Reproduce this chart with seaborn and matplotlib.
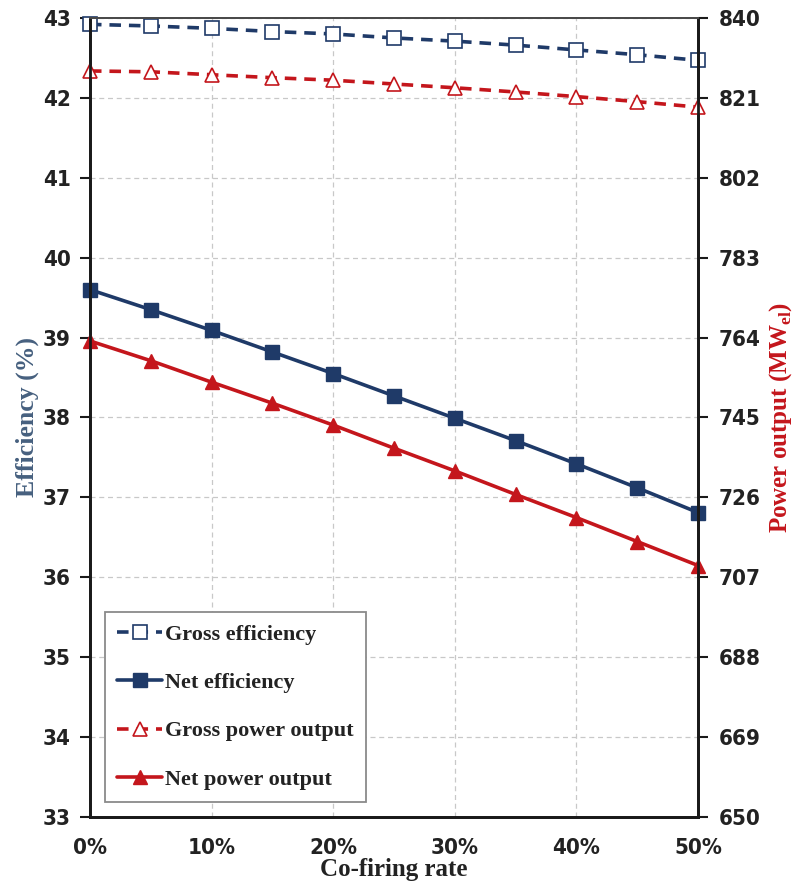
import matplotlib
matplotlib.use("Agg")
import matplotlib.pyplot as plt
from matplotlib import font_manager
import seaborn as sns
import pandas as pd

# Co-firing rate (%) and plant performance
cofiring = [0, 5, 10, 15, 20, 25, 30, 35, 40, 45, 50]
gross_eff = [42.92, 42.90, 42.87, 42.83, 42.80, 42.75, 42.71, 42.66, 42.60, 42.54, 42.47]
net_eff = [39.60, 39.35, 39.09, 38.82, 38.55, 38.27, 37.99, 37.71, 37.42, 37.12, 36.81]
gross_power = [827.4, 827.2, 826.5, 825.8, 825.2, 824.3, 823.4, 822.4, 821.3, 820.1, 818.8]
net_power = [763.2, 758.5, 753.4, 748.4, 743.2, 737.7, 732.3, 726.7, 721.2, 715.5, 709.8]

eff_ticks = list(range(33, 44))
power_ticks = [650, 669, 688, 707, 726, 745, 764, 783, 802, 821, 840]
x_ticks = [0, 10, 20, 30, 40, 50]

df = pd.DataFrame({"rate": cofiring, "gross_eff": gross_eff, "net_eff": net_eff,
                   "gross_power": gross_power, "net_power": net_power})

NAVY = "#1f3a68"
RED = "#c4161c"

sns.set_style("white")
narrow = [f for f in font_manager.fontManager.ttflist
          if f.name == "DejaVu Sans" and f.stretch == "condensed" and f.weight in (700, "bold")]
if any(f.name == "Liberation Sans Narrow" for f in font_manager.fontManager.ttflist):
    tick_family, tick_stretch = ["Liberation Sans Narrow"], "normal"
elif narrow:
    tick_family, tick_stretch = ["DejaVu Sans"], "condensed"
else:
    tick_family, tick_stretch = ["Liberation Sans"], "normal"
serif = ["Liberation Serif", "DejaVu Serif"]
plt.rcParams["font.family"] = serif
plt.rcParams["mathtext.fontset"] = "custom"
plt.rcParams["mathtext.bf"] = "Liberation Serif:bold"
plt.rcParams["mathtext.rm"] = "Liberation Serif"

fig = plt.figure(figsize=(7.96, 8.85), dpi=100)
ax = fig.add_axes([0.113, 0.0768, 0.764, 0.9029])
ax2 = ax.twinx()

dash = (0, (3.2, 2.2))
common = dict(linewidth=2.6, clip_on=False, legend=False)
sns.lineplot(data=df, x="rate", y="gross_eff", ax=ax, color=NAVY,
             linestyle=dash, marker="s", markersize=9.5, markerfacecolor="white",
             markeredgecolor=NAVY, markeredgewidth=1.2, label="Gross efficiency", **common)
sns.lineplot(data=df, x="rate", y="net_eff", ax=ax, color=NAVY,
             marker="s", markersize=9.5, markerfacecolor=NAVY,
             markeredgecolor=NAVY, markeredgewidth=1.0, label="Net efficiency", **common)
sns.lineplot(data=df, x="rate", y="gross_power", ax=ax2, color=RED,
             linestyle=dash, marker="^", markersize=10.5, markerfacecolor="white",
             markeredgecolor=RED, markeredgewidth=1.2, label="Gross power output", **common)
sns.lineplot(data=df, x="rate", y="net_power", ax=ax2, color=RED,
             marker="^", markersize=10.5, markerfacecolor=RED,
             markeredgecolor=RED, markeredgewidth=1.0, label="Net power output", **common)

ax.set_xlim(0, 50)
ax.set_ylim(33, 43)
ax2.set_ylim(650, 840)
ax.set_xticks(x_ticks)
ax.set_xticklabels([f"{v}%" for v in x_ticks])
ax.set_yticks(eff_ticks)
ax.set_yticklabels([str(v) for v in eff_ticks])
ax2.set_yticks(power_ticks)
ax2.set_yticklabels([str(v) for v in power_ticks])

ax.grid(True, color="#c8c8c8", linestyle=(0, (4, 3)), linewidth=0.9)
ax2.grid(False)
ax.set_axisbelow(True)

ax.tick_params(axis="both", direction="out", length=7, width=1.5, color="#1a1a1a", pad=7)
ax2.tick_params(axis="y", direction="out", length=7, width=1.5, color="#1a1a1a", pad=8)
ax.tick_params(axis="x", length=6, pad=9)
for a in (ax, ax2):
    for s in a.spines.values():
        s.set_color("#1a1a1a")
        s.set_linewidth(2.0)
    a.spines["top"].set_color("#4a4a4a")
    a.spines["top"].set_linewidth(1.4)
    for lbl in a.get_xticklabels() + a.get_yticklabels():
        lbl.set_fontfamily(tick_family)
        lbl.set_fontstretch(tick_stretch)
        lbl.set_fontweight("bold")
        lbl.set_fontsize(16)
        lbl.set_color("#222222")

ax.set_xlabel("Co-firing rate", fontsize=18, fontweight="bold", color="#222222", labelpad=0)
ax.set_ylabel("Efficiency (%)", fontsize=18.5, fontweight="bold", color="#46607f")
ax2.set_ylabel("Power output (MW$_{\\mathbf{el}}$)", fontsize=18, fontweight="bold",
               color=RED)
ax.yaxis.set_label_coords(-0.083, 0.5)
ax2.yaxis.set_label_coords(1.113, 0.5)

h1, l1 = ax.get_legend_handles_labels()
h2, l2 = ax2.get_legend_handles_labels()
leg = ax2.legend(h1 + h2, l1 + l2, loc="lower left", bbox_to_anchor=(0.025, 0.019),
                 borderaxespad=0, frameon=True, fancybox=False, framealpha=1,
                 edgecolor="#8a8a8a", handlelength=2.0, labelspacing=1.25,
                 borderpad=0.55, handletextpad=0.15, markerscale=1.0,
                 prop={"family": serif, "weight": "bold", "size": 16})
leg.get_frame().set_linewidth(1.3)
for t in leg.get_texts():
    t.set_color("#222222")

fig.savefig("out.png", dpi=100)
